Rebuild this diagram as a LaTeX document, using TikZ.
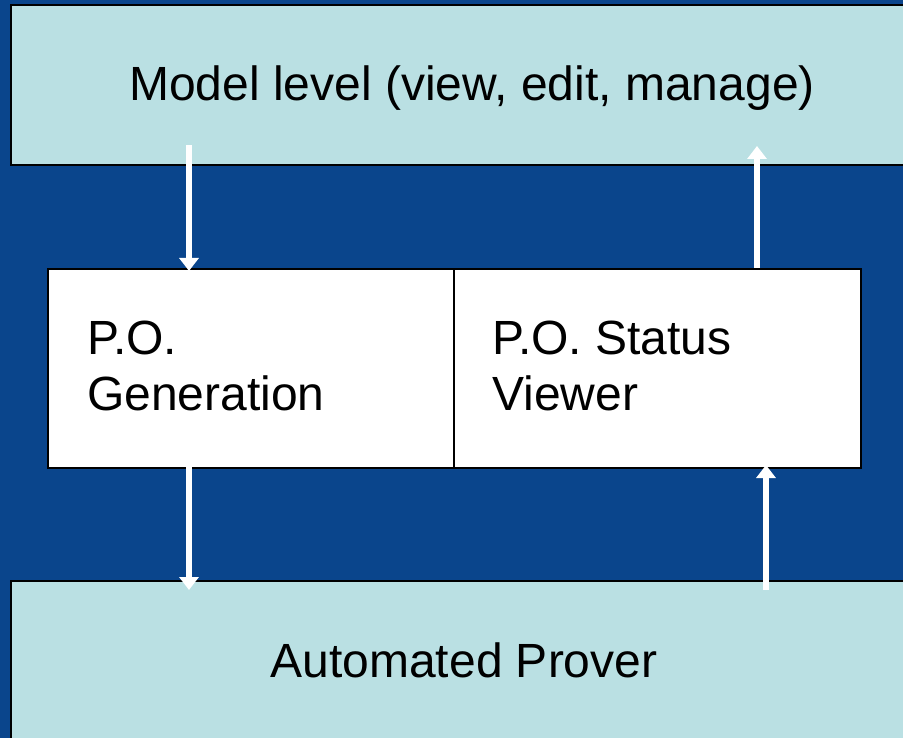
\documentclass[tikz,border=0pt]{standalone}
\usepackage{fontspec}
\setmainfont{Liberation Sans}
\usetikzlibrary{arrows.meta,positioning}
\definecolor{deepblue}{HTML}{0A458C}
\definecolor{paleteal}{HTML}{BAE0E3}
\tikzset{
  layer/.style={draw=black, line width=2pt, fill=paleteal, inner sep=0pt, minimum height=160pt, minimum width=910pt, anchor=north west},
  panel/.style={draw=black, line width=2pt, fill=white, inner sep=0pt, minimum height=199pt, minimum width=406pt, anchor=north west},
  label/.style={font=\fontsize{48}{55}\selectfont, inner sep=0pt, anchor=base},
  flow/.style={draw=white, line width=6.5pt, -{Triangle[width=19pt,length=13pt]}},
}
\begin{document}
\begin{tikzpicture}[x=1pt, y=-1pt]
  \fill[deepblue] (0,0) rectangle (903,738);
  \useasboundingbox (0,0) rectangle (903,738);
  \begin{scope}
    \clip (0,0) rectangle (903,738);
    % tiers
    \node[layer] (model) at (10,4) {};
    \node[layer] (prover) at (10,580) {};
    \node[panel] (gen) at (47,268) {};
    \node[panel, minimum width=407pt] (status) at (453,268) {};
    % texts
    \node[label] (modeltxt) at (472,101) {Model level (view, edit, manage)};
    \node[label] (provertxt) at (464,677) {Automated Prover};
    \node[label, anchor=base west] (gen1) at (87,355) {P.O.};
    \node[label, anchor=base west] (gen2) at (87,410) {Generation};
    \node[label, anchor=base west] (stat1) at (492,355) {P.O. Status};
    \node[label, anchor=base west] (stat2) at (492,410) {Viewer};
    % connector ends
    \coordinate (genin) at (189,145);
    \coordinate (gentip) at (189,271);
    \coordinate (genout) at (189,467);
    \coordinate (provertip) at (189,590);
    \coordinate (statout) at (757,268);
    \coordinate (modeltip) at (757,146);
    \coordinate (statin) at (766,590);
    \coordinate (statustip) at (766,465);
    \draw[flow] (genin) -- (gentip);
    \draw[flow] (genout) -- (provertip);
    \draw[flow] (statout) -- (modeltip);
    \draw[flow] (statin) -- (statustip);
  \end{scope}
\end{tikzpicture}
\end{document}
